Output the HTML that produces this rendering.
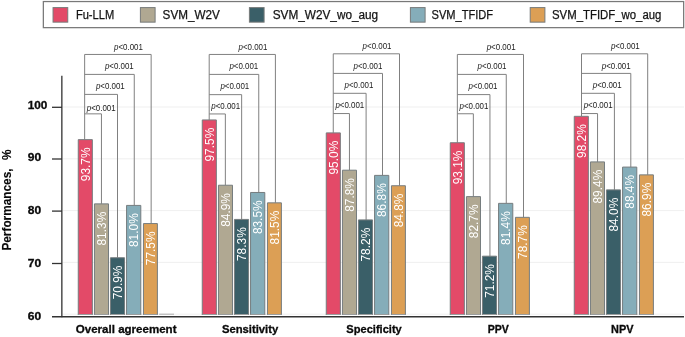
<!DOCTYPE html>
<html lang="en"><head><meta charset="utf-8"><title>Performances chart</title>
<style>
html,body{margin:0;padding:0;background:#fff;}
body{width:685px;height:337px;overflow:hidden;}
svg{display:block;font-family:'Liberation Sans', Arial, Helvetica, sans-serif;}
.leg{font-size:12.3px;fill:#141414;stroke:#141414;stroke-width:0.25;}
.cat{font-size:11.2px;font-weight:bold;fill:#0a0a0a;stroke:#0a0a0a;stroke-width:0.3;}
.tick{font-size:10.7px;font-weight:bold;fill:#0a0a0a;stroke:#0a0a0a;stroke-width:0.3;}
.ytitle{font-size:13px;word-spacing:5.7px;font-weight:bold;fill:#0a0a0a;stroke:#0a0a0a;stroke-width:0.15;}
.val{font-size:12.2px;fill:#fff;}
.p{font-size:8.2px;fill:#222;}
.br{stroke:#808080;stroke-width:1;fill:none;}
.grid{stroke:#ebebeb;stroke-width:0.8;}
.bar{stroke:#767d7f;stroke-width:1;}
.ax{stroke:#333;stroke-width:1.3;}
</style></head><body>
<svg width="685" height="337" viewBox="0 0 685 337" role="img" aria-label="Performances bar chart">
<rect x="0" y="0" width="685" height="337" fill="#ffffff"/>
<rect x="43.35" y="1.55" width="640.3" height="26.1" fill="#fff" stroke="#787878" stroke-width="1.25"/>
<rect x="53.05" y="7.6" width="14.7" height="14.55" fill="#E34A68" stroke="#777a7a" stroke-width="1"/>
<text class="leg" x="75.9" y="19.3" textLength="38.3" lengthAdjust="spacingAndGlyphs">Fu-LLM</text>
<rect x="140.40" y="7.6" width="14.7" height="14.55" fill="#B0A892" stroke="#777a7a" stroke-width="1"/>
<text class="leg" x="162.6" y="19.3" textLength="57.2" lengthAdjust="spacingAndGlyphs">SVM_W2V</text>
<rect x="249.40" y="7.6" width="14.7" height="14.55" fill="#3A5F68" stroke="#777a7a" stroke-width="1"/>
<text class="leg" x="272.7" y="19.3" textLength="105.5" lengthAdjust="spacingAndGlyphs">SVM_W2V_wo_aug</text>
<rect x="410.40" y="7.6" width="14.7" height="14.55" fill="#85ADB9" stroke="#777a7a" stroke-width="1"/>
<text class="leg" x="431.5" y="19.3" textLength="61.5" lengthAdjust="spacingAndGlyphs">SVM_TFIDF</text>
<rect x="530.20" y="7.6" width="14.7" height="14.55" fill="#DC9F55" stroke="#777a7a" stroke-width="1"/>
<text class="leg" x="552.0" y="19.3" textLength="109.4" lengthAdjust="spacingAndGlyphs">SVM_TFIDF_wo_aug</text>
<line class="grid" x1="62.8" x2="684" y1="314.2" y2="314.2"/>
<line class="grid" x1="62.8" x2="684" y1="262.4" y2="262.4"/>
<line class="grid" x1="62.8" x2="684" y1="210.6" y2="210.6"/>
<line class="grid" x1="62.8" x2="684" y1="158.8" y2="158.8"/>
<line class="grid" x1="62.8" x2="684" y1="107.0" y2="107.0"/>
<line class="br" x1="84.65" x2="84.65" y1="54.45" y2="139.63"/>
<path class="br" d="M84.65 54.45H151.15V223.55"/>
<text class="p" x="114.00" y="49.50" textLength="28.9" lengthAdjust="spacingAndGlyphs"><tspan font-style="italic">p</tspan>&lt;0.001</text>
<path class="br" d="M84.65 74.40H134.25V205.42"/>
<text class="p" x="104.90" y="69.40" textLength="28.9" lengthAdjust="spacingAndGlyphs"><tspan font-style="italic">p</tspan>&lt;0.001</text>
<path class="br" d="M84.65 94.40H117.50V257.74"/>
<text class="p" x="95.90" y="88.50" textLength="28.9" lengthAdjust="spacingAndGlyphs"><tspan font-style="italic">p</tspan>&lt;0.001</text>
<path class="br" d="M84.65 113.85H101.45V203.87"/>
<text class="p" x="86.80" y="111.10" textLength="28.9" lengthAdjust="spacingAndGlyphs"><tspan font-style="italic">p</tspan>&lt;0.001</text>
<rect x="78.25" y="139.63" width="14.10" height="174.37" fill="#E34A68"/>
<line x1="77.75" x2="92.85" y1="314.5" y2="314.5" stroke="#9c9e9e" stroke-width="1"/>
<path class="bar" fill="none" d="M78.25 314.5V139.63H92.35V314.5"/>
<text class="val" transform="translate(89.7 181.2) rotate(-90)" textLength="33.7" lengthAdjust="spacingAndGlyphs">93.7%</text>
<rect x="94.45" y="203.87" width="14.05" height="110.13" fill="#B0A892"/>
<line x1="93.95" x2="109.00" y1="314.5" y2="314.5" stroke="#9c9e9e" stroke-width="1"/>
<path class="bar" fill="none" d="M94.45 314.5V203.87H108.50V314.5"/>
<text class="val" transform="translate(105.9 245.5) rotate(-90)" textLength="33.7" lengthAdjust="spacingAndGlyphs">81.3%</text>
<rect x="110.45" y="257.74" width="14.10" height="56.26" fill="#3A5F68"/>
<line x1="109.95" x2="125.05" y1="314.5" y2="314.5" stroke="#9c9e9e" stroke-width="1"/>
<path class="bar" fill="none" d="M110.45 314.5V257.74H124.55V314.5"/>
<text class="val" transform="translate(121.9 299.3) rotate(-90)" textLength="33.7" lengthAdjust="spacingAndGlyphs">70.9%</text>
<rect x="126.55" y="205.42" width="14.25" height="108.58" fill="#85ADB9"/>
<line x1="126.05" x2="141.30" y1="314.5" y2="314.5" stroke="#9c9e9e" stroke-width="1"/>
<path class="bar" fill="none" d="M126.55 314.5V205.42H140.80V314.5"/>
<text class="val" transform="translate(138.1 247.0) rotate(-90)" textLength="33.7" lengthAdjust="spacingAndGlyphs">81.0%</text>
<rect x="143.45" y="223.55" width="13.95" height="90.45" fill="#DC9F55"/>
<line x1="142.95" x2="157.90" y1="314.5" y2="314.5" stroke="#9c9e9e" stroke-width="1"/>
<path class="bar" fill="none" d="M143.45 314.5V223.55H157.40V314.5"/>
<text class="val" transform="translate(154.8 265.2) rotate(-90)" textLength="33.7" lengthAdjust="spacingAndGlyphs">77.5%</text>
<line class="br" x1="209.20" x2="209.20" y1="54.45" y2="119.95"/>
<path class="br" d="M209.20 54.45H275.40V202.83"/>
<text class="p" x="238.50" y="49.50" textLength="28.9" lengthAdjust="spacingAndGlyphs"><tspan font-style="italic">p</tspan>&lt;0.001</text>
<path class="br" d="M209.20 74.40H258.75V192.47"/>
<text class="p" x="229.40" y="69.40" textLength="28.9" lengthAdjust="spacingAndGlyphs"><tspan font-style="italic">p</tspan>&lt;0.001</text>
<path class="br" d="M209.20 94.65H241.65V219.41"/>
<text class="p" x="220.40" y="88.50" textLength="28.9" lengthAdjust="spacingAndGlyphs"><tspan font-style="italic">p</tspan>&lt;0.001</text>
<path class="br" d="M209.20 113.95H225.35V185.22"/>
<text class="p" x="211.30" y="109.35" textLength="28.9" lengthAdjust="spacingAndGlyphs"><tspan font-style="italic">p</tspan>&lt;0.001</text>
<rect x="202.25" y="119.95" width="14.10" height="194.05" fill="#E34A68"/>
<line x1="201.75" x2="216.85" y1="314.5" y2="314.5" stroke="#9c9e9e" stroke-width="1"/>
<path class="bar" fill="none" d="M202.25 314.5V119.95H216.35V314.5"/>
<text class="val" transform="translate(213.7 161.5) rotate(-90)" textLength="33.7" lengthAdjust="spacingAndGlyphs">97.5%</text>
<rect x="218.45" y="185.22" width="14.05" height="128.78" fill="#B0A892"/>
<line x1="217.95" x2="233.00" y1="314.5" y2="314.5" stroke="#9c9e9e" stroke-width="1"/>
<path class="bar" fill="none" d="M218.45 314.5V185.22H232.50V314.5"/>
<text class="val" transform="translate(229.9 226.8) rotate(-90)" textLength="33.7" lengthAdjust="spacingAndGlyphs">84.9%</text>
<rect x="234.45" y="219.41" width="14.10" height="94.59" fill="#3A5F68"/>
<line x1="233.95" x2="249.05" y1="314.5" y2="314.5" stroke="#9c9e9e" stroke-width="1"/>
<path class="bar" fill="none" d="M234.45 314.5V219.41H248.55V314.5"/>
<text class="val" transform="translate(245.9 261.0) rotate(-90)" textLength="33.7" lengthAdjust="spacingAndGlyphs">78.3%</text>
<rect x="250.55" y="192.47" width="14.25" height="121.53" fill="#85ADB9"/>
<line x1="250.05" x2="265.30" y1="314.5" y2="314.5" stroke="#9c9e9e" stroke-width="1"/>
<path class="bar" fill="none" d="M250.55 314.5V192.47H264.80V314.5"/>
<text class="val" transform="translate(262.1 234.1) rotate(-90)" textLength="33.7" lengthAdjust="spacingAndGlyphs">83.5%</text>
<rect x="267.45" y="202.83" width="13.95" height="111.17" fill="#DC9F55"/>
<line x1="266.95" x2="281.90" y1="314.5" y2="314.5" stroke="#9c9e9e" stroke-width="1"/>
<path class="bar" fill="none" d="M267.45 314.5V202.83H281.40V314.5"/>
<text class="val" transform="translate(278.8 244.4) rotate(-90)" textLength="33.7" lengthAdjust="spacingAndGlyphs">81.5%</text>
<line class="br" x1="333.25" x2="333.25" y1="53.80" y2="132.90"/>
<path class="br" d="M333.25 53.80H399.50V185.74"/>
<text class="p" x="362.60" y="48.85" textLength="28.9" lengthAdjust="spacingAndGlyphs"><tspan font-style="italic">p</tspan>&lt;0.001</text>
<path class="br" d="M333.25 73.40H382.50V175.38"/>
<text class="p" x="353.50" y="68.50" textLength="28.9" lengthAdjust="spacingAndGlyphs"><tspan font-style="italic">p</tspan>&lt;0.001</text>
<path class="br" d="M333.25 93.30H366.10V219.92"/>
<text class="p" x="344.50" y="87.90" textLength="28.9" lengthAdjust="spacingAndGlyphs"><tspan font-style="italic">p</tspan>&lt;0.001</text>
<path class="br" d="M333.25 113.55H349.45V170.20"/>
<text class="p" x="335.40" y="108.30" textLength="28.9" lengthAdjust="spacingAndGlyphs"><tspan font-style="italic">p</tspan>&lt;0.001</text>
<rect x="326.25" y="132.90" width="14.10" height="181.10" fill="#E34A68"/>
<line x1="325.75" x2="340.85" y1="314.5" y2="314.5" stroke="#9c9e9e" stroke-width="1"/>
<path class="bar" fill="none" d="M326.25 314.5V132.90H340.35V314.5"/>
<text class="val" transform="translate(337.7 174.5) rotate(-90)" textLength="33.7" lengthAdjust="spacingAndGlyphs">95.0%</text>
<rect x="342.45" y="170.20" width="14.05" height="143.80" fill="#B0A892"/>
<line x1="341.95" x2="357.00" y1="314.5" y2="314.5" stroke="#9c9e9e" stroke-width="1"/>
<path class="bar" fill="none" d="M342.45 314.5V170.20H356.50V314.5"/>
<text class="val" transform="translate(353.9 211.8) rotate(-90)" textLength="33.7" lengthAdjust="spacingAndGlyphs">87.8%</text>
<rect x="358.45" y="219.92" width="14.10" height="94.08" fill="#3A5F68"/>
<line x1="357.95" x2="373.05" y1="314.5" y2="314.5" stroke="#9c9e9e" stroke-width="1"/>
<path class="bar" fill="none" d="M358.45 314.5V219.92H372.55V314.5"/>
<text class="val" transform="translate(369.9 261.5) rotate(-90)" textLength="33.7" lengthAdjust="spacingAndGlyphs">78.2%</text>
<rect x="374.55" y="175.38" width="14.25" height="138.62" fill="#85ADB9"/>
<line x1="374.05" x2="389.30" y1="314.5" y2="314.5" stroke="#9c9e9e" stroke-width="1"/>
<path class="bar" fill="none" d="M374.55 314.5V175.38H388.80V314.5"/>
<text class="val" transform="translate(386.1 217.0) rotate(-90)" textLength="33.7" lengthAdjust="spacingAndGlyphs">86.8%</text>
<rect x="391.45" y="185.74" width="13.95" height="128.26" fill="#DC9F55"/>
<line x1="390.95" x2="405.90" y1="314.5" y2="314.5" stroke="#9c9e9e" stroke-width="1"/>
<path class="bar" fill="none" d="M391.45 314.5V185.74H405.40V314.5"/>
<text class="val" transform="translate(402.8 227.3) rotate(-90)" textLength="33.7" lengthAdjust="spacingAndGlyphs">84.8%</text>
<line class="br" x1="457.35" x2="457.35" y1="54.45" y2="142.74"/>
<path class="br" d="M457.35 54.45H523.50V217.33"/>
<text class="p" x="486.70" y="49.50" textLength="28.9" lengthAdjust="spacingAndGlyphs"><tspan font-style="italic">p</tspan>&lt;0.001</text>
<path class="br" d="M457.35 74.40H506.25V203.35"/>
<text class="p" x="477.60" y="69.40" textLength="28.9" lengthAdjust="spacingAndGlyphs"><tspan font-style="italic">p</tspan>&lt;0.001</text>
<path class="br" d="M457.35 94.60H489.95V256.18"/>
<text class="p" x="468.60" y="88.50" textLength="28.9" lengthAdjust="spacingAndGlyphs"><tspan font-style="italic">p</tspan>&lt;0.001</text>
<path class="br" d="M457.35 113.75H473.35V196.61"/>
<text class="p" x="459.50" y="109.35" textLength="28.9" lengthAdjust="spacingAndGlyphs"><tspan font-style="italic">p</tspan>&lt;0.001</text>
<rect x="450.25" y="142.74" width="14.10" height="171.26" fill="#E34A68"/>
<line x1="449.75" x2="464.85" y1="314.5" y2="314.5" stroke="#9c9e9e" stroke-width="1"/>
<path class="bar" fill="none" d="M450.25 314.5V142.74H464.35V314.5"/>
<text class="val" transform="translate(461.7 184.3) rotate(-90)" textLength="33.7" lengthAdjust="spacingAndGlyphs">93.1%</text>
<rect x="466.45" y="196.61" width="14.05" height="117.39" fill="#B0A892"/>
<line x1="465.95" x2="481.00" y1="314.5" y2="314.5" stroke="#9c9e9e" stroke-width="1"/>
<path class="bar" fill="none" d="M466.45 314.5V196.61H480.50V314.5"/>
<text class="val" transform="translate(477.9 238.2) rotate(-90)" textLength="33.7" lengthAdjust="spacingAndGlyphs">82.7%</text>
<rect x="482.45" y="256.18" width="14.10" height="57.82" fill="#3A5F68"/>
<line x1="481.95" x2="497.05" y1="314.5" y2="314.5" stroke="#9c9e9e" stroke-width="1"/>
<path class="bar" fill="none" d="M482.45 314.5V256.18H496.55V314.5"/>
<text class="val" transform="translate(493.9 297.8) rotate(-90)" textLength="33.7" lengthAdjust="spacingAndGlyphs">71.2%</text>
<rect x="498.55" y="203.35" width="14.25" height="110.65" fill="#85ADB9"/>
<line x1="498.05" x2="513.30" y1="314.5" y2="314.5" stroke="#9c9e9e" stroke-width="1"/>
<path class="bar" fill="none" d="M498.55 314.5V203.35H512.80V314.5"/>
<text class="val" transform="translate(510.1 244.9) rotate(-90)" textLength="33.7" lengthAdjust="spacingAndGlyphs">81.4%</text>
<rect x="515.45" y="217.33" width="13.95" height="96.67" fill="#DC9F55"/>
<line x1="514.95" x2="529.90" y1="314.5" y2="314.5" stroke="#9c9e9e" stroke-width="1"/>
<path class="bar" fill="none" d="M515.45 314.5V217.33H529.40V314.5"/>
<text class="val" transform="translate(526.8 258.9) rotate(-90)" textLength="33.7" lengthAdjust="spacingAndGlyphs">78.7%</text>
<line class="br" x1="581.50" x2="581.50" y1="53.80" y2="116.32"/>
<path class="br" d="M581.50 53.80H647.70V174.86"/>
<text class="p" x="610.90" y="48.85" textLength="28.9" lengthAdjust="spacingAndGlyphs"><tspan font-style="italic">p</tspan>&lt;0.001</text>
<path class="br" d="M581.50 73.40H630.80V167.09"/>
<text class="p" x="601.80" y="68.50" textLength="28.9" lengthAdjust="spacingAndGlyphs"><tspan font-style="italic">p</tspan>&lt;0.001</text>
<path class="br" d="M581.50 93.30H614.40V189.88"/>
<text class="p" x="592.80" y="87.90" textLength="28.9" lengthAdjust="spacingAndGlyphs"><tspan font-style="italic">p</tspan>&lt;0.001</text>
<path class="br" d="M581.50 113.55H597.55V161.91"/>
<text class="p" x="583.70" y="108.40" textLength="28.9" lengthAdjust="spacingAndGlyphs"><tspan font-style="italic">p</tspan>&lt;0.001</text>
<rect x="574.25" y="116.32" width="14.10" height="197.68" fill="#E34A68"/>
<line x1="573.75" x2="588.85" y1="314.5" y2="314.5" stroke="#9c9e9e" stroke-width="1"/>
<path class="bar" fill="none" d="M574.25 314.5V116.32H588.35V314.5"/>
<text class="val" transform="translate(585.7 157.9) rotate(-90)" textLength="33.7" lengthAdjust="spacingAndGlyphs">98.2%</text>
<rect x="590.45" y="161.91" width="14.05" height="152.09" fill="#B0A892"/>
<line x1="589.95" x2="605.00" y1="314.5" y2="314.5" stroke="#9c9e9e" stroke-width="1"/>
<path class="bar" fill="none" d="M590.45 314.5V161.91H604.50V314.5"/>
<text class="val" transform="translate(601.9 203.5) rotate(-90)" textLength="33.7" lengthAdjust="spacingAndGlyphs">89.4%</text>
<rect x="606.45" y="189.88" width="14.10" height="124.12" fill="#3A5F68"/>
<line x1="605.95" x2="621.05" y1="314.5" y2="314.5" stroke="#9c9e9e" stroke-width="1"/>
<path class="bar" fill="none" d="M606.45 314.5V189.88H620.55V314.5"/>
<text class="val" transform="translate(617.9 231.5) rotate(-90)" textLength="33.7" lengthAdjust="spacingAndGlyphs">84.0%</text>
<rect x="622.55" y="167.09" width="14.25" height="146.91" fill="#85ADB9"/>
<line x1="622.05" x2="637.30" y1="314.5" y2="314.5" stroke="#9c9e9e" stroke-width="1"/>
<path class="bar" fill="none" d="M622.55 314.5V167.09H636.80V314.5"/>
<text class="val" transform="translate(634.1 208.7) rotate(-90)" textLength="33.7" lengthAdjust="spacingAndGlyphs">88.4%</text>
<rect x="639.45" y="174.86" width="13.95" height="139.14" fill="#DC9F55"/>
<line x1="638.95" x2="653.90" y1="314.5" y2="314.5" stroke="#9c9e9e" stroke-width="1"/>
<path class="bar" fill="none" d="M639.45 314.5V174.86H653.40V314.5"/>
<text class="val" transform="translate(650.8 216.5) rotate(-90)" textLength="33.7" lengthAdjust="spacingAndGlyphs">86.9%</text>
<line x1="159.2" x2="174" y1="314.2" y2="314.2" stroke="#9a9a9a" stroke-width="0.8"/>
<line class="ax" x1="61.85" x2="61.85" y1="75.8" y2="317.2"/>
<line class="ax" x1="52" x2="684" y1="316.75" y2="316.75"/>
<line class="ax" x1="52" x2="62" y1="107.3" y2="107.3"/>
<line class="ax" x1="52" x2="62" y1="159.0" y2="159.0"/>
<line class="ax" x1="52" x2="62" y1="211.1" y2="211.1"/>
<line class="ax" x1="52" x2="62" y1="263.5" y2="263.5"/>
<text class="tick" x="27.7" y="109.4" textLength="19.7" lengthAdjust="spacingAndGlyphs">100</text>
<text class="tick" x="27.7" y="160.5" textLength="13.4" lengthAdjust="spacingAndGlyphs">90</text>
<text class="tick" x="27.7" y="213.5" textLength="13.4" lengthAdjust="spacingAndGlyphs">80</text>
<text class="tick" x="27.7" y="266.8" textLength="13.4" lengthAdjust="spacingAndGlyphs">70</text>
<text class="tick" x="27.7" y="319.7" textLength="13.4" lengthAdjust="spacingAndGlyphs">60</text>
<text class="ytitle" transform="translate(11.3 250.6) rotate(-90)" textLength="101.1" lengthAdjust="spacingAndGlyphs">Performances, %</text>
<text class="cat" x="75.8" y="333.4" textLength="100.7" lengthAdjust="spacingAndGlyphs">Overall agreement</text>
<text class="cat" x="221.9" y="333.4" textLength="56.4" lengthAdjust="spacingAndGlyphs">Sensitivity</text>
<text class="cat" x="346.3" y="333.4" textLength="55.5" lengthAdjust="spacingAndGlyphs">Specificity</text>
<text class="cat" x="487.8" y="333.4" textLength="21.1" lengthAdjust="spacingAndGlyphs">PPV</text>
<text class="cat" x="611.1" y="333.4" textLength="22.4" lengthAdjust="spacingAndGlyphs">NPV</text>
</svg>
</body></html>
